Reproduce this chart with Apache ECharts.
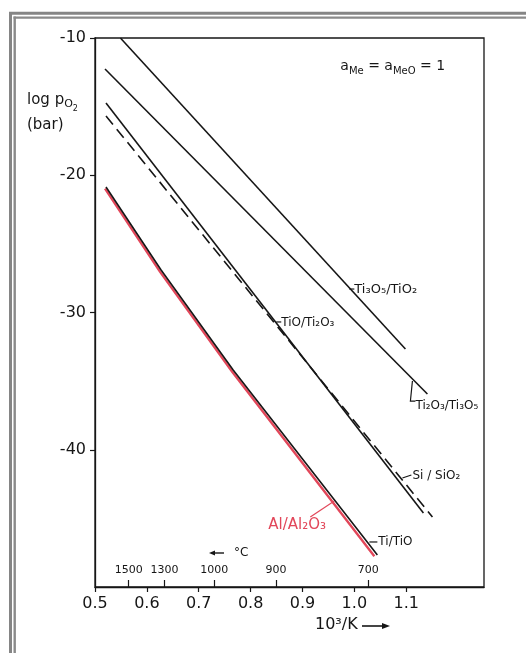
<!DOCTYPE html>
<html>
<head>
<meta charset="utf-8">
<script src="https://cdn.jsdelivr.net/npm/echarts@6/dist/echarts.min.js"></script>
<style>
html,body{margin:0;padding:0;background:#fff;}
#c{width:526px;height:653px;}
</style>
</head>
<body>
<div id="c"></div>
<script>
// ---- data ----
const xTicks = [0.5, 0.6, 0.7, 0.8, 0.9, 1.0, 1.1];
const yTicks = [-40, -30, -20, -10];
const tempLabels = ['1500', '1300', '1000', '900', '700'];
const tempPos = [0.565, 0.634, 0.730, 0.849, 1.027];

const ti3o5_tio2 = [[0.549, -10.0], [1.0985, -32.66]];
const ti2o3_ti3o5 = [[0.5193, -12.26], [1.1409, -35.94]];
const tio_ti2o3 = [[0.5212, -14.74], [1.1332, -44.61]];
const si_sio2 = [[0.5212, -15.68], [1.1506, -44.90]];
const ti_tio = [[0.5212, -20.86], [0.6274, -26.90], [0.7664, -34.19], [1.0444, -47.67]];
const al_al2o3 = [[0.5193, -20.98], [0.6255, -27.04], [0.7645, -34.32], [1.0386, -47.76]];

const FONT = 'DejaVu Sans';
const INK = '#161616';
const RED = '#e2475a';

const chart = echarts.init(document.getElementById('c'), null, {renderer: 'canvas'});

function blackLine(name, data, dashed) {
  return {
    name: name, type: 'line', xAxisIndex: 0, yAxisIndex: 0,
    data: data, showSymbol: false, symbol: 'none', silent: true,
    lineStyle: {color: INK, width: 1.6, type: dashed ? [11, 6] : 'solid'},
    z: 3
  };
}

const option = {
  animation: false,
  backgroundColor: '#ffffff',
  grid: {left: 95, right: 42, top: 38, bottom: 66, show: true, borderColor: INK, borderWidth: 1.3,
         containLabel: false, outerBoundsMode: 'none'},
  xAxis: [
    {
      type: 'value', min: 0.5, max: 1.25, interval: 0.05,
      axisLine: {show: true, onZero: false, lineStyle: {color: INK, width: 1.3}},
      axisTick: {show: true, length: 5, customValues: xTicks, lineStyle: {color: INK, width: 1.2}},
      axisLabel: {customValues: xTicks, formatter: v => v.toFixed(1), fontSize: 16, color: INK,
                  fontFamily: FONT, margin: 9},
      splitLine: {show: false}
    },
    {
      type: 'value', min: 0.5, max: 1.25, interval: 0.05, position: 'bottom',
      axisLine: {show: false, onZero: false},
      axisTick: {show: true, inside: true, length: 7, customValues: tempPos, lineStyle: {color: INK, width: 1.2}},
      axisLabel: {inside: true, customValues: tempPos, fontSize: 11, color: INK, fontFamily: FONT, margin: 11,
        formatter: function (v) {
          let best = 0;
          for (let i = 1; i < tempPos.length; i++) {
            if (Math.abs(tempPos[i] - v) < Math.abs(tempPos[best] - v)) best = i;
          }
          return tempLabels[best];
        }},
      splitLine: {show: false}
    }
  ],
  yAxis: {
    type: 'value', min: -50, max: -10, interval: 10,
    axisLine: {show: true, onZero: false, lineStyle: {color: INK, width: 1.3}},
    axisTick: {show: true, length: 5, customValues: yTicks, lineStyle: {color: INK, width: 1.2}},
    axisLabel: {customValues: yTicks, fontSize: 16, color: INK, fontFamily: FONT, margin: 9,
                formatter: v => String(v)},
    splitLine: {show: false}
  },
  series: [
    {
      name: 'Al/Al2O3', type: 'line', xAxisIndex: 0, yAxisIndex: 0, data: al_al2o3,
      showSymbol: false, symbol: 'none', silent: true,
      lineStyle: {color: RED, width: 2.4}, z: 2
    },
    blackLine('Ti3O5/TiO2', ti3o5_tio2, false),
    blackLine('Ti2O3/Ti3O5', ti2o3_ti3o5, false),
    blackLine('TiO/Ti2O3', tio_ti2o3, false),
    blackLine('Si/SiO2', si_sio2, true),
    blackLine('Ti/TiO', ti_tio, false)
  ]
};
chart.setOption(option);

function P(x, y) { return chart.convertToPixel({seriesIndex: 1}, [x, y]); }

const notes = [
  {text: 'Ti₃O₅/TiO₂', at: [1.000, -28.36], lead: [[0.9903, -28.29], [1.000, -28.29]], size: 13},
  {text: 'Ti₂O₃/Ti₃O₅', at: [1.1178, -36.81], lead: [[1.1120, -34.99], [1.1081, -36.45], [1.1178, -36.45]], size: 12},
  {text: 'TiO/Ti₂O₃', at: [0.8591, -30.77], lead: [[0.8494, -30.69], [0.8591, -30.69]], size: 12},
  {text: 'Si / SiO₂', at: [1.1120, -41.91], lead: [[1.0927, -42.06], [1.1100, -41.84]], size: 12},
  {text: 'Ti/TiO', at: [1.0463, -46.72], lead: [[1.0290, -46.72], [1.0444, -46.72]], size: 12},
  {text: 'Al/Al₂O₃', at: [0.8340, -45.48], lead: [[0.9151, -44.90], [0.9614, -43.73]], size: 15, color: RED}
];

const g = [];
// scan frame (top and left double grey rules)
g.push({type: 'line', shape: {x1: 9, y1: 13.3, x2: 526, y2: 13.3}, style: {stroke: '#858585', lineWidth: 3}, silent: true});
g.push({type: 'line', shape: {x1: 10.5, y1: 12, x2: 10.5, y2: 653}, style: {stroke: '#858585', lineWidth: 3}, silent: true});
g.push({type: 'line', shape: {x1: 13.5, y1: 17.7, x2: 526, y2: 17.7}, style: {stroke: '#8a8a8a', lineWidth: 2.2}, silent: true});
g.push({type: 'line', shape: {x1: 14.7, y1: 16.6, x2: 14.7, y2: 653}, style: {stroke: '#8a8a8a', lineWidth: 2.4}, silent: true});

notes.forEach(n => {
  const pts = n.lead.map(p => P(p[0], p[1]));
  g.push({type: 'polyline', shape: {points: pts}, style: {stroke: n.color || INK, lineWidth: 1.2, fill: null}, silent: true, z: 10});
  const a = P(n.at[0], n.at[1]);
  g.push({type: 'text', x: a[0], y: a[1], silent: true, z: 10,
    style: {text: n.text, fontSize: n.size, fontFamily: FONT, fill: n.color || INK, align: 'left', verticalAlign: 'middle'}});
});

// activity annotation
const aPos = P(0.973, -12.11);
g.push({type: 'text', x: aPos[0], y: 59, silent: true, z: 10,
  style: {
    text: '{m|a}{s|Me}{m| = a}{s|MeO}{m| = 1}', align: 'left', verticalAlign: 'top', fill: INK,
    rich: {
      m: {fontSize: 14, lineHeight: 15, fontFamily: FONT, fill: INK, verticalAlign: 'top'},
      s: {fontSize: 10, lineHeight: 10, fontFamily: FONT, fill: INK, verticalAlign: 'top', padding: [7, 0, 0, 0]}
    }
  }});

// y axis name
g.push({type: 'text', x: 27, y: 93, silent: true, z: 10,
  style: {
    text: '{m|log p}{s|O}{t|2}', align: 'left', verticalAlign: 'top', fill: INK,
    rich: {
      m: {fontSize: 15, lineHeight: 15, fontFamily: FONT, fill: INK, verticalAlign: 'top'},
      s: {fontSize: 11, lineHeight: 11, fontFamily: FONT, fill: INK, verticalAlign: 'top', padding: [6, 0, 0, 0]},
      t: {fontSize: 8, lineHeight: 8, fontFamily: FONT, fill: INK, verticalAlign: 'top', padding: [12, 0, 0, 0]}
    }
  }});
g.push({type: 'text', x: 27, y: 125.5, silent: true, z: 10,
  style: {text: '(bar)', fontSize: 15, fontFamily: FONT, fill: INK, align: 'left', verticalAlign: 'middle'}});

// x axis name with arrow
g.push({type: 'text', x: 315, y: 625, silent: true, z: 10,
  style: {text: '10³/K', fontSize: 16, fontFamily: FONT, fill: INK, align: 'left', verticalAlign: 'middle'}});
g.push({type: 'line', shape: {x1: 362, y1: 626, x2: 383, y2: 626}, style: {stroke: INK, lineWidth: 1.6}, silent: true});
g.push({type: 'polygon', shape: {points: [[390, 626], [382, 623], [382, 629]]}, style: {fill: INK}, silent: true});

// temperature scale arrow "← °C"
g.push({type: 'line', shape: {x1: 214, y1: 553, x2: 224, y2: 553}, style: {stroke: INK, lineWidth: 1.4}, silent: true});
g.push({type: 'polygon', shape: {points: [[209, 553], [215, 550.5], [215, 555.5]]}, style: {fill: INK}, silent: true});
g.push({type: 'text', x: 234, y: 553, silent: true, z: 10,
  style: {text: '°C', fontSize: 12, fontFamily: FONT, fill: INK, align: 'left', verticalAlign: 'middle'}});

chart.setOption({graphic: g});
</script>
</body>
</html>
